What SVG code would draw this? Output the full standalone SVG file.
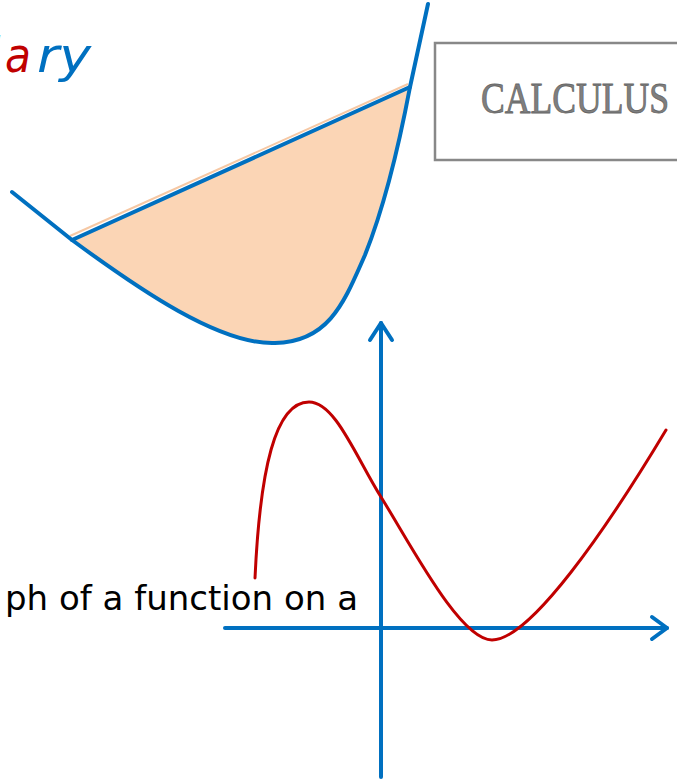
<svg xmlns="http://www.w3.org/2000/svg" width="677" height="782" viewBox="0 0 677 782">
  <style>
    .blue { stroke: #0070C0; fill: none; stroke-width: 4; stroke-linecap: round; stroke-linejoin: round; }
    .red { stroke: #C00000; fill: none; stroke-width: 3; stroke-linecap: round; }
    .title { font-family: "Comic Sans MS", "DejaVu Sans", sans-serif; font-style: italic; font-size: 48px; }
    .body { font-family: "Comic Sans MS", "DejaVu Sans", sans-serif; font-size: 34px; fill: #000; }
    .calc { font-family: "Liberation Serif", "Courier New", serif; font-size: 42px; fill: #7F7F7F; stroke: #666; stroke-width: 0.8; }
  </style>
  <rect width="677" height="782" fill="#fff"/>

  <g id="title">
    <text class="title" x="-13" y="72" fill="#0070C0">l</text>
    <text class="title" x="5" y="72" fill="#C00000" textLength="26" lengthAdjust="spacingAndGlyphs">a</text>
    <text class="title" x="37" y="72" fill="#0070C0" textLength="54" lengthAdjust="spacingAndGlyphs">ry</text>
  </g>

  <g id="calculus-box">
    <rect x="435" y="43" width="260" height="117" fill="#fff" stroke="#888" stroke-width="2.5"/>
    <text class="calc" transform="translate(481,113) scale(1,1.05)" x="0" y="0" textLength="188" lengthAdjust="spacingAndGlyphs">CALCULUS</text>
  </g>

  <g id="area-figure">
    <path d="M72,240 L410,87 C400,140 385,205 365,255 C345,300 330,342 275,343 C220,345 140,290 72,240 Z" fill="#FBD5B5" stroke="none"/>
    <path d="M70,236 L408,84" stroke="#F6C8A4" stroke-width="2" fill="none"/>
    <path class="blue" d="M12,192 L72,240 C140,290 220,345 275,343 C330,342 345,300 365,255 C385,205 400,140 410,87 L428,4"/>
    <path class="blue" d="M72,240 L410,87"/>
  </g>

  <g id="label">
    <text class="body" x="5" y="610" textLength="353" lengthAdjust="spacingAndGlyphs">ph of a function on a</text>
  </g>

  <g id="connectors">
    <path class="blue" d="M381,777 L381,323"/>
    <path class="blue" d="M370,340 L381,323 L392,340"/>
    <path class="blue" d="M225,628 L667,628"/>
    <path class="blue" d="M652,617 L667,628 L652,639"/>
  </g>

  <g id="function-graph">
    <path class="red" d="M255,578 C260,470 275,402 309,402 C335,402 355,455 381,497 C411,545 460,640 492,640 C530,640 606,530 666,430"/>
  </g>
</svg>
